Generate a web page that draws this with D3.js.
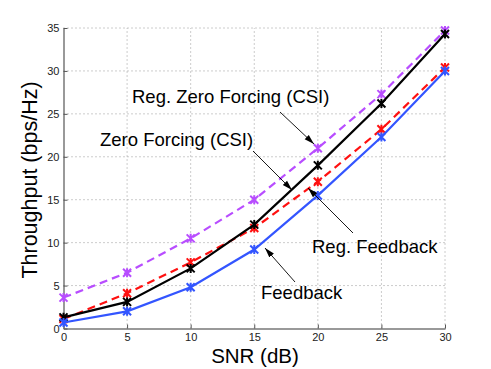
<!DOCTYPE html>
<html><head><meta charset="utf-8">
<script src="https://cdn.jsdelivr.net/npm/d3@7"></script>
<style>body{margin:0;background:#fff}svg{display:block}text{font-family:"Liberation Sans",Arial,sans-serif}</style>
</head><body><svg id="c" width="491" height="369"></svg>
<script>
const snr = [0, 5, 10, 15, 20, 25, 30];
const xTicks = [0, 5, 10, 15, 20, 25, 30];
const yTicks = [0, 5, 10, 15, 20, 25, 30, 35];
const regZF = [3.6, 6.5, 10.5, 15.0, 21.0, 27.3, 34.7];
const zf = [1.3, 3.1, 7.0, 12.1, 19.0, 26.2, 34.3];
const regFb = [1.1, 4.1, 7.7, 11.7, 17.1, 23.2, 30.4];
const fb = [0.7, 2.0, 4.8, 9.2, 15.5, 22.3, 30.0];

const series = [
  {name:"regZF", vals: regZF, color:"#b84dff", dash:"8,5"},
  {name:"regFb", vals: regFb, color:"#ff1010", dash:"8,5"},
  {name:"zf", vals: zf, color:"#000000", dash:null},
  {name:"fb", vals: fb, color:"#3355ff", dash:null}
];

const svg = d3.select("#c");
const x = d3.scaleLinear().domain([0,30]).range([63.5,445]);
const y = d3.scaleLinear().domain([0,35]).range([328.5,28]);

// grid
const g = svg.append("g");
g.selectAll(".gx").data(xTicks.slice(1)).enter().append("line")
  .attr("x1",d=>x(d)).attr("x2",d=>x(d)).attr("y1",y(0)).attr("y2",y(35))
  .attr("stroke","#999").attr("stroke-width",1).attr("stroke-dasharray","1,3");
g.selectAll(".gy").data(yTicks.slice(1)).enter().append("line")
  .attr("x1",x(0)).attr("x2",x(30)).attr("y1",d=>y(d)).attr("y2",d=>y(d))
  .attr("stroke","#999").attr("stroke-width",1).attr("stroke-dasharray","1,3");

// axes
const xAxis = d3.axisBottom(x).tickValues(xTicks).tickSizeInner(-4).tickSizeOuter(0).tickPadding(5);
const yAxis = d3.axisLeft(y).tickValues(yTicks).tickSizeInner(-4).tickSizeOuter(0).tickPadding(4);
const gx = svg.append("g").attr("transform",`translate(0,${y(0)})`).call(xAxis);
const gy = svg.append("g").attr("transform",`translate(${x(0)},0)`).call(yAxis);
[gx,gy].forEach(a=>{
  a.select(".domain").attr("stroke","#777").attr("stroke-width",1.5);
  a.selectAll(".tick line").attr("stroke","#555");
  a.selectAll(".tick text").attr("font-size",11).attr("fill","#222").style("font-family","Liberation Sans, Arial, sans-serif");
});

// lines
const line = d3.line().x((d,i)=>x(snr[i])).y(d=>y(d));
series.forEach(s=>{
  svg.append("path").datum(s.vals).attr("d",line).attr("fill","none")
    .attr("stroke",s.color).attr("stroke-width",2.2)
    .attr("stroke-dasharray",s.dash);
  const m = svg.append("g");
  s.vals.forEach((v,i)=>{
    const cx=x(snr[i]), cy=y(v), r=4;
    const p = `M${cx-r},${cy-r}L${cx+r},${cy+r}M${cx-r},${cy+r}L${cx+r},${cy-r}M${cx},${cy-r-0.5}L${cx},${cy+r+0.5}`;
    m.append("path").attr("d",p).attr("stroke",s.color).attr("stroke-width",2).attr("fill","none");
  });
});

// annotations
const defs = svg.append("defs");
defs.append("marker").attr("id","ah").attr("viewBox","0 0 10 10").attr("refX",10).attr("refY",5)
  .attr("markerWidth",10).attr("markerHeight",10).attr("markerUnits","userSpaceOnUse").attr("orient","auto")
  .append("path").attr("d","M0,2L10,5L0,8Z").attr("fill","#000");

const annots = [
  {text:"Reg. Zero Forcing (CSI)", tx:132, ty:103, x1:280, y1:112, x2:314, y2:144},
  {text:"Zero Forcing (CSI)", tx:100, ty:146, x1:253, y1:151, x2:292, y2:190},
  {text:"Reg. Feedback", tx:312, ty:253, x1:353, y1:233, x2:308, y2:188},
  {text:"Feedback", tx:261, ty:299, x1:295, y1:282, x2:265, y2:248}
];
annots.forEach(a=>{
  svg.append("line").attr("x1",a.x1).attr("y1",a.y1).attr("x2",a.x2).attr("y2",a.y2)
    .attr("stroke","#000").attr("stroke-width",0.9).attr("marker-end","url(#ah)");
  svg.append("text").attr("x",a.tx).attr("y",a.ty).attr("font-size",18.5).attr("fill","#000").text(a.text);
});

// axis labels
svg.append("text").attr("x",255).attr("y",363).attr("text-anchor","middle").attr("font-size",20.5).text("SNR (dB)");
svg.append("text").attr("transform","translate(37,180) rotate(-90)").attr("text-anchor","middle").attr("font-size",21.5).text("Throughput (bps/Hz)");
</script></body></html>
